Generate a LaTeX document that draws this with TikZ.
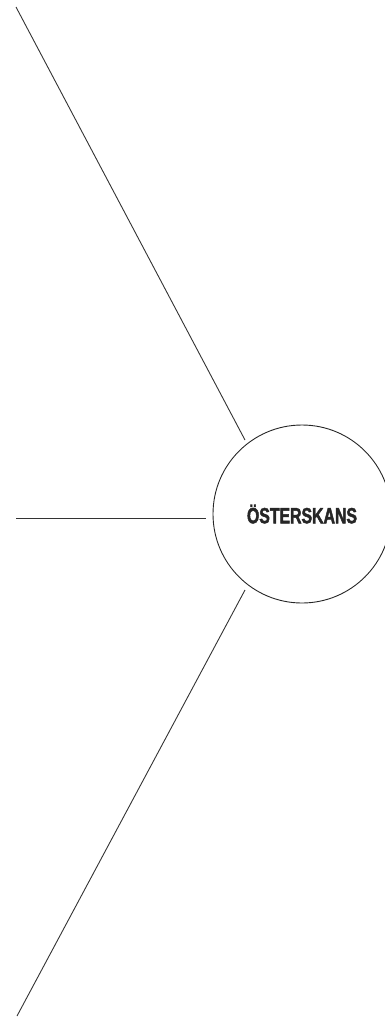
\documentclass[tikz,border=0pt]{standalone}
\usepackage{fontspec}
\newfontfamily\condfont[FakeStretch=0.72,FakeBold=2]{Liberation Sans Bold}
\begin{document}
\begin{tikzpicture}[x=1pt,y=-1pt,
  link/.style={draw=black!80,line width=0.9pt},
  hub/.style={circle,draw=black!85,line width=0.9pt,minimum size=178pt,inner sep=0pt,font=\condfont\fontsize{22}{22}\selectfont,text=black!85}]
\useasboundingbox (0,0) rectangle (385,1020);
\node[hub] (c) at (302,514) {ÖSTERSKANS};
\coordinate (a1) at (16,7);
\coordinate (a2) at (245,440);
\coordinate (b1) at (16,518);
\coordinate (b2) at (206,518);
\coordinate (d1) at (245,590);
\coordinate (d2) at (17,1016);
\draw[link] (a1) -- (a2);
\draw[link] (b1) -- (b2);
\draw[link] (d1) -- (d2);
\end{tikzpicture}
\end{document}
